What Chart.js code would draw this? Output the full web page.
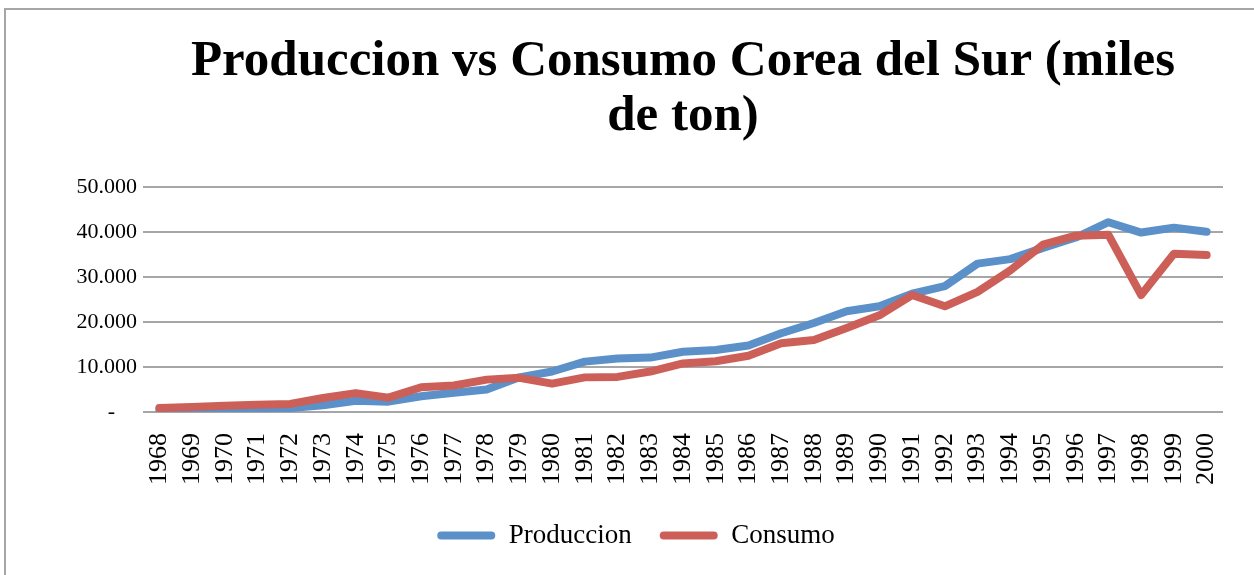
<!DOCTYPE html>
<html>
<head>
<meta charset="utf-8">
<script src="https://cdn.jsdelivr.net/npm/chart.js@4/dist/chart.umd.min.js"></script>
<style>
  body { margin: 0; background: #fff; overflow: hidden; }
  #frame { position: absolute; left: 4px; top: 8px; width: 1300px; height: 700px; border: 2px solid #a6a6a6; }
  #chart { position: absolute; left: 0; top: 0; }
</style>
</head>
<body>
<div id="frame"></div>
<canvas id="chart" width="1254" height="575" style="width:1254px;height:575px"></canvas>
<script>
// Produccion vs Consumo, Corea del Sur (miles de ton)

const years = ['1968', '1969', '1970', '1971', '1972', '1973', '1974', '1975', '1976', '1977', '1978',
  '1979', '1980', '1981', '1982', '1983', '1984', '1985', '1986', '1987', '1988', '1989',
  '1990', '1991', '1992', '1993', '1994', '1995', '1996', '1997', '1998', '1999', '2000'];

const produccion = [500, 600, 700, 800, 900, 1500, 2500, 2300, 3500, 4300, 5000,
  7700, 9000, 11200, 11900, 12100, 13400, 13800, 14800, 17500, 19800, 22400,
  23500, 26300, 28000, 33000, 34000, 36500, 38800, 42200, 39900, 41000, 40100];

const consumo = [900, 1100, 1400, 1600, 1800, 3100, 4200, 3200, 5500, 5900, 7200,
  7600, 6300, 7700, 7800, 9000, 10800, 11300, 12500, 15300, 16000, 18700,
  21500, 26000, 23500, 26700, 31500, 37200, 39200, 39400, 26000, 35200, 34900];

const yTicks = [0, 10000, 20000, 30000, 40000, 50000];

const blue = '#5b90c8';
const red = '#cc6058';
const serif = "'Liberation Serif', 'Times New Roman', serif";

const fmt = v => v === 0 ? '-    ' : (v / 1000) + '.000';

new Chart(document.getElementById('chart'), {
  type: 'line',
  data: {
    labels: years,
    datasets: [
      {
        label: 'Produccion',
        data: produccion,
        borderColor: blue,
        backgroundColor: blue,
        borderWidth: 8,
        order: 1
      },
      {
        label: 'Consumo',
        data: consumo,
        borderColor: red,
        backgroundColor: red,
        borderWidth: 8,
        order: 0
      }
    ]
  },
  options: {
    responsive: false,
    animation: false,
    layout: { padding: { left: 49, right: 31, top: 0, bottom: 16 } },
    elements: {
      point: { radius: 0, hoverRadius: 0 },
      line: { tension: 0, fill: false, borderCapStyle: 'round', borderJoinStyle: 'round' }
    },
    scales: {
      x: {
        offset: true,
        grid: { display: false, drawTicks: false },
        border: { display: false },
        ticks: {
          color: '#000',
          font: { family: serif, size: 26 },
          maxRotation: 90,
          minRotation: 90,
          autoSkip: false,
          padding: 21
        },
        afterFit: s => { s.height = 82; s.paddingLeft = 0; s.paddingRight = 0; }
      },
      y: {
        min: 0,
        max: 50000,
        afterBuildTicks: s => { s.ticks = yTicks.map(v => ({ value: v })); },
        grid: { color: '#a6a6a6', lineWidth: 2, drawTicks: false },
        border: { display: false },
        ticks: {
          color: '#000',
          font: { family: serif, size: 22 },
          padding: 6,
          callback: v => fmt(v)
        },
        afterFit: s => { s.width = 94; }
      }
    },
    plugins: {
      title: {
        display: true,
        fullSize: false,
        text: ['Produccion vs Consumo Corea del Sur (miles', 'de ton)'],
        color: '#000',
        font: { family: serif, size: 51, weight: 'bold', lineHeight: 1.08 },
        padding: { top: 34, bottom: 43 }
      },
      legend: {
        position: 'bottom',
        labels: {
          color: '#000',
          font: { family: serif, size: 27 },
          boxWidth: 58,
          boxHeight: 8,
          padding: 28,
          useBorderRadius: true,
          sort: (a, b) => a.datasetIndex - b.datasetIndex,
          generateLabels: chart => Chart.defaults.plugins.legend.labels.generateLabels(chart).map(l =>
            Object.assign(l, { fillStyle: l.strokeStyle, lineWidth: 0, borderRadius: 4 }))
        }
      },
      tooltip: { enabled: false }
    }
  }
});
</script>
</body>
</html>
